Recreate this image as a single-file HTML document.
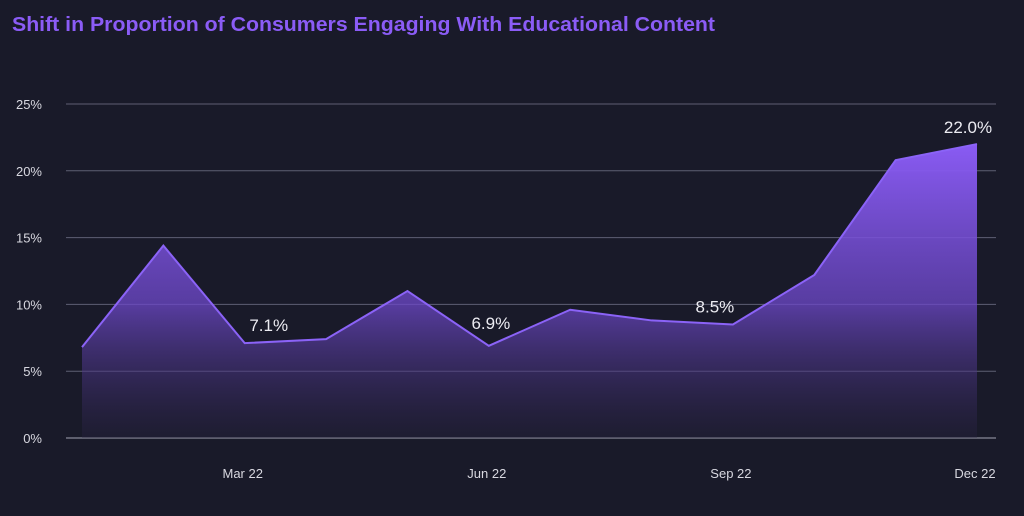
<!DOCTYPE html>
<html><head><meta charset="utf-8"><style>
body{margin:0;background:#191a29;}
svg{display:block;font-family:"Liberation Sans",sans-serif;}
</style></head><body>
<svg id="chart" width="1024" height="516">
<defs>
<linearGradient id="fillg" gradientUnits="userSpaceOnUse" x1="0" y1="140" x2="0" y2="438">
<stop offset="0" stop-color="#8b5cf6" stop-opacity="1"/>
<stop offset="0.55" stop-color="#6d48c9" stop-opacity="0.75"/>
<stop offset="1" stop-color="#2a2344" stop-opacity="0.3"/>
</linearGradient></defs>
<rect width="1024" height="516" fill="#191a29"/>
<text x="12" y="31" fill="#8b5cf6" font-size="20" font-weight="bold" textLength="703" lengthAdjust="spacingAndGlyphs">Shift in Proportion of Consumers Engaging With Educational Content</text>
<g id="grid"></g><g id="area"></g><g id="labels"></g>
</svg>
<script>
const months=["Jan 22","Feb 22","Mar 22","Apr 22","May 22","Jun 22","Jul 22","Aug 22","Sep 22","Oct 22","Nov 22","Dec 22"];
const values=[6.8,14.4,7.1,7.4,11.0,6.9,9.6,8.8,8.5,12.2,20.8,22.0];
const yTicks=[0,5,10,15,20,25];
const xTickLabels=["Mar 22","Jun 22","Sep 22","Dec 22"];
const annotated=["Mar 22","Jun 22","Sep 22","Dec 22"];
const NS="http://www.w3.org/2000/svg";
const x0=82,x1=977,yBase=438,yTop=104;
const xs=i=>x0+(x1-x0)*i/(months.length-1);
const ys=v=>yBase-(yBase-yTop)*v/25;
const labelDx={"Mar 22":24,"Jun 22":2,"Sep 22":-18,"Dec 22":-9};
const labelDy={"Mar 22":-12,"Jun 22":-17,"Sep 22":-12,"Dec 22":-11};
const grid=document.getElementById('grid');
yTicks.forEach(t=>{
 const l=document.createElementNS(NS,'line');
 l.setAttribute('x1',66);l.setAttribute('x2',996);l.setAttribute('y1',ys(t));l.setAttribute('y2',ys(t));
 l.setAttribute('stroke',t===0?'#a4a4b2':'#5e5f73');l.setAttribute('stroke-width',1);
 
 
 grid.appendChild(l);
 const tx=document.createElementNS(NS,'text');
 tx.setAttribute('x',42);tx.setAttribute('y',ys(t)+5);tx.setAttribute('text-anchor','end');
 tx.setAttribute('fill','#d8d8e0');tx.setAttribute('font-size','13');tx.textContent=t+'%';
 
 
 grid.appendChild(tx);
});
const area=document.getElementById('area');
let d='M'+xs(0)+','+yBase;
values.forEach((v,i)=>{d+=' L'+xs(i)+','+ys(v);});
d+=' L'+xs(values.length-1)+','+yBase+' Z';
const p=document.createElementNS(NS,'path');
p.setAttribute('d',d);p.setAttribute('fill','url(#fillg)');


area.appendChild(p);
const ln=document.createElementNS(NS,'polyline');
ln.setAttribute('points',values.map((v,i)=>xs(i)+','+ys(v)).join(' '));
ln.setAttribute('fill','none');ln.setAttribute('stroke','#8b63f7');ln.setAttribute('stroke-width',2);


area.appendChild(ln);
const lab=document.getElementById('labels');
xTickLabels.forEach(m=>{
 const i=months.indexOf(m);
 const t=document.createElementNS(NS,'text');
 t.setAttribute('x',xs(i)-2);t.setAttribute('y',478);t.setAttribute('text-anchor','middle');
 t.setAttribute('fill','#d8d8e0');t.setAttribute('font-size','13');t.textContent=m;
 
 
 lab.appendChild(t);
});
annotated.forEach(m=>{
 const i=months.indexOf(m);
 const t=document.createElementNS(NS,'text');
 t.setAttribute('x',xs(i)+labelDx[m]);t.setAttribute('y',ys(values[i])+labelDy[m]);t.setAttribute('text-anchor','middle');
 t.setAttribute('fill','#ececf2');t.setAttribute('font-size','17');t.textContent=values[i].toFixed(1)+'%';
 
 
 lab.appendChild(t);
});
</script>
</body></html>
